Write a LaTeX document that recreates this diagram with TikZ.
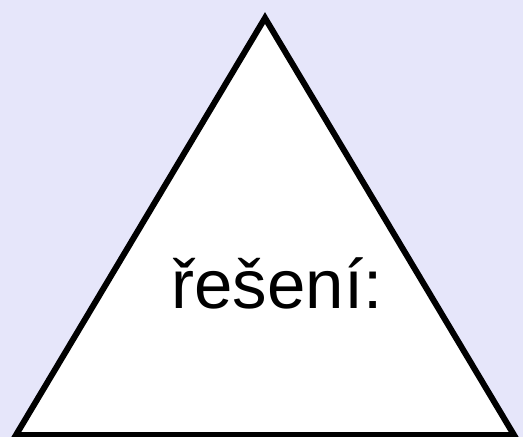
\documentclass[tikz,border=0pt]{standalone}
\usepackage{fontspec}
\setmainfont{Liberation Sans}
\definecolor{bgcol}{RGB}{230,230,250}
\tikzset{tri/.style={draw=black,fill=white,line width=6pt,line join=miter},
lbl/.style={font=\fontsize{69}{80}\selectfont,anchor=base,inner sep=0pt}}
\begin{document}
\begin{tikzpicture}[x=1pt,y=-1pt]
\fill[bgcol] (0,0) rectangle (523,437);
\useasboundingbox (0,0) rectangle (523,437);
\begin{scope}
\clip (0,0) rectangle (523,437);
\draw[tri] (265,18) -- (514,435) -- (16,435) -- cycle;
\end{scope}
\node[lbl] (t) at (277,308) {řešení:};
\end{tikzpicture}
\end{document}
